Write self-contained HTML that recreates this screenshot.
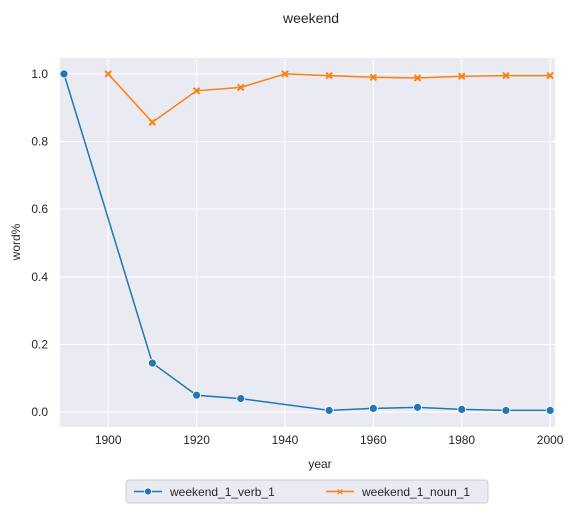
<!DOCTYPE html>
<html><head><meta charset="utf-8"><style>
body{margin:0;background:#fff;}
svg text{font-family:"Liberation Sans",Arial,sans-serif;fill:#262626;}
</style></head><body>
<svg width="575" height="515" xmlns="http://www.w3.org/2000/svg">
<text x="311" y="23" font-size="14" text-anchor="middle">weekend</text>
<rect x="60" y="58" width="495" height="369" fill="#eaeaf2"/>
<g id="grid"></g>
<g id="series"></g>
<text x="320" y="468" font-size="12" text-anchor="middle">year</text>
<text transform="translate(20,242) rotate(-90)" font-size="12" text-anchor="middle">word%</text>
<g>
<rect x="126" y="480" width="362" height="23" rx="3" fill="#eaeaf2" stroke="#cccccc"/>
<g>
<line x1="134" y1="491.5" x2="162" y2="491.5" stroke="#1f77b4" stroke-width="1.5"/>
<circle cx="148" cy="491.5" r="3.5" fill="#1f77b4" stroke="#fff" stroke-width="0.8"/>
<text x="170" y="496" font-size="12">weekend_1_verb_1</text>
</g>
<g>
<line x1="326" y1="491.5" x2="354" y2="491.5" stroke="#ff7f0e" stroke-width="1.5"/>
<text x="340" y="495.5" font-size="11" font-weight="bold" text-anchor="middle" style="fill:#ff7f0e">×</text>
<text x="362" y="496" font-size="12">weekend_1_noun_1</text>
</g>
</g>
</svg>
<script>
const years=[1890,1900,1910,1920,1930,1940,1950,1960,1970,1980,1990,2000];
const verbYears=[1890,1910,1920,1930,1950,1960,1970,1980,1990,2000];
const verbVals=[1.0,0.145,0.05,0.04,0.005,0.011,0.014,0.008,0.005,0.005];
const nounYears=[1900,1910,1920,1930,1940,1950,1960,1970,1980,1990,2000];
const nounVals=[1.0,0.857,0.95,0.96,1.0,0.995,0.99,0.988,0.993,0.995,0.995];
const xTicks=[1900,1920,1940,1960,1980,2000];
const yTicks=[0.0,0.2,0.4,0.6,0.8,1.0];
const NS='http://www.w3.org/2000/svg';
const L=60,R=555,T=58,B=427,x0=1889.1,x1=2001.1,y0=-0.044,y1=1.047;
const X=v=>L+(v-x0)/(x1-x0)*(R-L);
const Y=v=>B-(v-y0)/(y1-y0)*(B-T);
function mk(tag,attrs,parent){const e=document.createElementNS(NS,tag);for(const k in attrs)e.setAttribute(k,attrs[k]);parent.appendChild(e);return e;}
const svg=document.querySelector('svg');
const grid=document.getElementById('grid'),ser=document.getElementById('series');
xTicks.forEach(t=>{
 const l=mk('line',{x1:X(t),x2:X(t),y1:T,y2:B,stroke:'#fff','stroke-width':1},grid);
 
 
 const tx=mk('text',{x:X(t),y:B+17,'font-size':12,'text-anchor':'middle'},svg);
 tx.textContent=t;
 
 
});
yTicks.forEach(t=>{
 const l=mk('line',{x1:L,x2:R,y1:Y(t),y2:Y(t),stroke:'#fff','stroke-width':1},grid);
 
 
 const tx=mk('text',{x:L-12,y:Y(t)+4,'font-size':12,'text-anchor':'end'},svg);
 tx.textContent=t.toFixed(1);
 
 
});
const pv=mk('polyline',{points:verbYears.map((y,i)=>X(y)+','+Y(verbVals[i])).join(' '),fill:'none',stroke:'#1f77b4','stroke-width':1.5},ser);


const pn=mk('polyline',{points:nounYears.map((y,i)=>X(y)+','+Y(nounVals[i])).join(' '),fill:'none',stroke:'#ff7f0e','stroke-width':1.5},ser);


verbYears.forEach((y,i)=>{
 const c=mk('circle',{cx:X(y),cy:Y(verbVals[i]),r:4,fill:'#1f77b4',stroke:'#fff','stroke-width':0.8},ser);
 
 
});
nounYears.forEach((y,i)=>{
 const cx=X(y),cy=Y(nounVals[i]),s=3;
 const p=mk('path',{d:`M${cx-s},${cy-s}L${cx+s},${cy+s}M${cx-s},${cy+s}L${cx+s},${cy-s}`,stroke:'#ff7f0e','stroke-width':2},ser);
 
 
});
</script>
</body></html>
